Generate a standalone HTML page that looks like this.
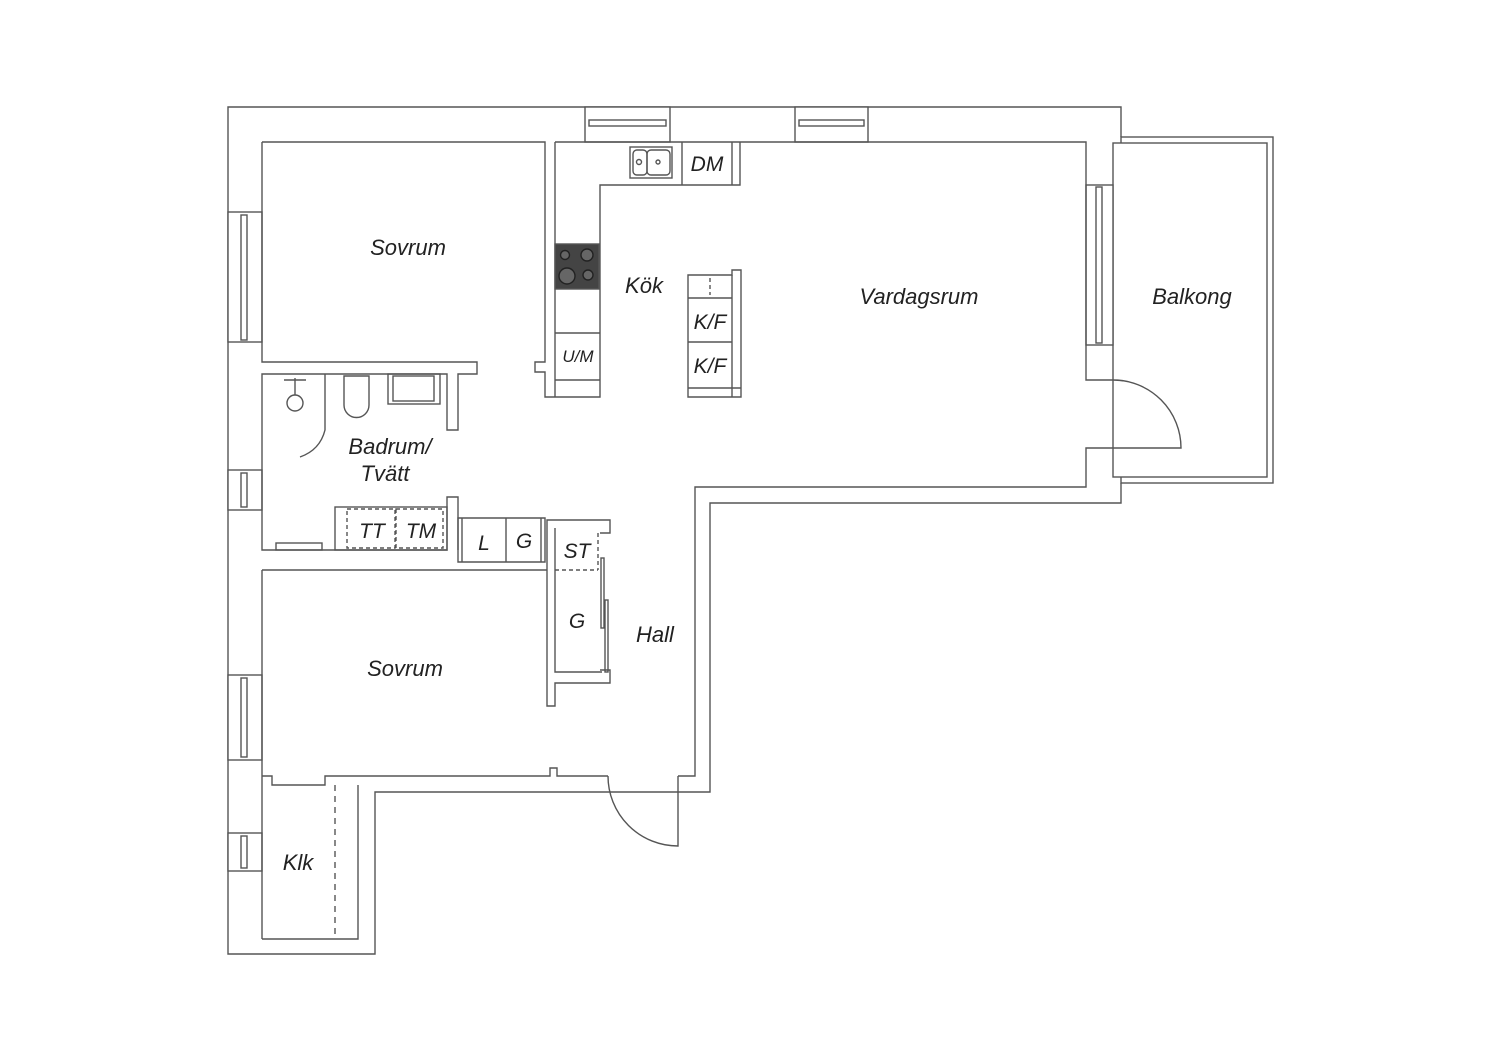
<!DOCTYPE html>
<html><head><meta charset="utf-8"><style>
html,body{margin:0;padding:0;background:#fff;}
svg{display:block;}
text{font-family:"Liberation Sans",sans-serif;font-style:italic;fill:#222;}
</style></head><body>
<svg width="1500" height="1060" viewBox="0 0 1500 1060" xmlns="http://www.w3.org/2000/svg">
<g fill="none" stroke="#555" stroke-width="1.4">
<!-- outer wall -->
<path d="M1121,137 V107 H228 V954 H375 V792 H710 V503 H1121 V483"/>
<!-- top windows -->
<rect x="585" y="107" width="85" height="35" fill="#fff"/>
<rect x="589" y="120" width="77" height="6"/>
<rect x="795" y="107" width="73" height="35" fill="#fff"/>
<rect x="799" y="120" width="65" height="6"/>
<!-- left windows -->
<rect x="228" y="212" width="34" height="130" fill="#fff"/><rect x="241" y="215" width="6" height="125"/>
<rect x="228" y="470" width="34" height="40" fill="#fff"/><rect x="241" y="473" width="6" height="34"/>
<rect x="228" y="675" width="34" height="85" fill="#fff"/><rect x="241" y="678" width="6" height="79"/>
<rect x="228" y="833" width="34" height="38" fill="#fff"/><rect x="241" y="836" width="6" height="32"/>
<!-- balcony -->
<rect x="1121" y="137" width="152" height="346"/>
<rect x="1113" y="143" width="154" height="334" fill="#fff"/>
<!-- balcony window -->
<rect x="1086" y="185" width="27" height="160" fill="#fff"/>
<rect x="1096" y="187" width="6" height="156"/>
<!-- balcony door -->
<path d="M1113,380 A68,68 0 0 1 1181,448 H1113"/>
<!-- living inner -->
<path d="M555,142 H1086 V380 H1113 M1113,448 H1086 V487 H695 V776 H678 M608,776 H557 V768 H550 V776 H325 V785 H272 V776 H262"/>
<!-- entry door -->
<path d="M608,776 A70,70 0 0 0 678,846 V776"/>
<!-- sovrum 1 -->
<path d="M262,142 H545 V362 H535 V372 H545 V397 H600 V185 H740 V142"/>
<path d="M262,142 V362 H477 V374 H458 V430 H447 V374 H262 V550 H447 V497 H458 V550"/>
<line x1="555" y1="142" x2="555" y2="397"/>
<!-- kitchen -->
<rect x="630" y="147" width="42" height="31"/>
<rect x="633" y="150" width="14" height="25" rx="4"/>
<rect x="647" y="150" width="23" height="25" rx="4"/>
<circle cx="639" cy="162" r="2.5"/><circle cx="658" cy="162" r="2"/>
<line x1="682" y1="142" x2="682" y2="185"/>
<line x1="732" y1="142" x2="732" y2="185"/>
<rect x="555" y="244" width="44" height="45" fill="#444"/>
<g stroke="#222" fill="#666"><circle cx="565" cy="255" r="4.5"/><circle cx="587" cy="255" r="6"/><circle cx="567" cy="276" r="8"/><circle cx="588" cy="275" r="5"/></g>
<line x1="555" y1="333" x2="600" y2="333"/>
<line x1="555" y1="380" x2="600" y2="380"/>
<!-- island -->
<path d="M688,397 V275 H732 V270 H741 V397 Z"/>
<line x1="688" y1="298" x2="732" y2="298"/>
<line x1="688" y1="342" x2="732" y2="342"/>
<line x1="688" y1="388" x2="741" y2="388"/>
<line x1="732" y1="275" x2="732" y2="397"/>
<line x1="710" y1="278" x2="710" y2="295" stroke-dasharray="4,3"/>
<!-- bathroom fixtures -->
<circle cx="295" cy="403" r="8"/><line x1="295" y1="378" x2="295" y2="395"/><line x1="284" y1="380" x2="306" y2="380"/>
<path d="M325,374 V430 Q320,450 300,457"/>
<path d="M344,376 V405 A12,12 0 0 0 369,405 V376 Z"/>
<rect x="388" y="374" width="52" height="30"/><rect x="393" y="376" width="41" height="25"/>
<rect x="276" y="543" width="46" height="7"/>
<rect x="335" y="507" width="112" height="43"/>
<rect x="347" y="509" width="48" height="39" stroke-dasharray="4,3"/>
<rect x="396" y="509" width="47" height="39" stroke-dasharray="4,3"/>
<!-- L G closet -->
<path d="M458,518 V562 H545 V518 Z"/>
<line x1="462" y1="518" x2="462" y2="562"/>
<line x1="506" y1="518" x2="506" y2="562"/>
<line x1="541" y1="518" x2="541" y2="562"/>
<!-- sovrum2 -->
<path d="M262,570 H547 V706 H555 V683 H610 V670 H600 M600,533 H610 V520 H547 V570"/>
<path d="M555,528 V672 H602"/>
<line x1="555" y1="570" x2="598" y2="570" stroke-dasharray="4,3"/>
<line x1="598" y1="533" x2="598" y2="570" stroke-dasharray="4,3"/>
<rect x="601" y="558" width="3" height="70"/>
<rect x="605" y="600" width="3" height="72"/>
<line x1="262" y1="570" x2="262" y2="939"/>
<!-- Klk -->
<path d="M262,939 H358 V785"/>
<line x1="335" y1="785" x2="335" y2="939" stroke-dasharray="6,5"/>
</g>
<g font-size="22">
<text x="408" y="255" text-anchor="middle">Sovrum</text>
<text x="644" y="293" text-anchor="middle">Kök</text>
<text x="919" y="304" text-anchor="middle">Vardagsrum</text>
<text x="1192" y="304" text-anchor="middle">Balkong</text>
<text x="390" y="454" text-anchor="middle">Badrum/</text>
<text x="385" y="481" text-anchor="middle">Tvätt</text>
<text x="655" y="642" text-anchor="middle">Hall</text>
<text x="405" y="676" text-anchor="middle">Sovrum</text>
<text x="298" y="870" text-anchor="middle">Klk</text>
</g>
<g font-size="21">
<text x="707" y="171" text-anchor="middle">DM</text>
<text x="710" y="329" text-anchor="middle">K/F</text>
<text x="710" y="373" text-anchor="middle">K/F</text>
<text x="372" y="538" text-anchor="middle">TT</text>
<text x="421" y="538" text-anchor="middle">TM</text>
<text x="484" y="550" text-anchor="middle">L</text>
<text x="524" y="548" text-anchor="middle">G</text>
<text x="577" y="558" text-anchor="middle">ST</text>
<text x="577" y="628" text-anchor="middle">G</text>
</g>
<text x="578" y="362" text-anchor="middle" font-size="17">U/M</text>
</svg>
</body></html>
